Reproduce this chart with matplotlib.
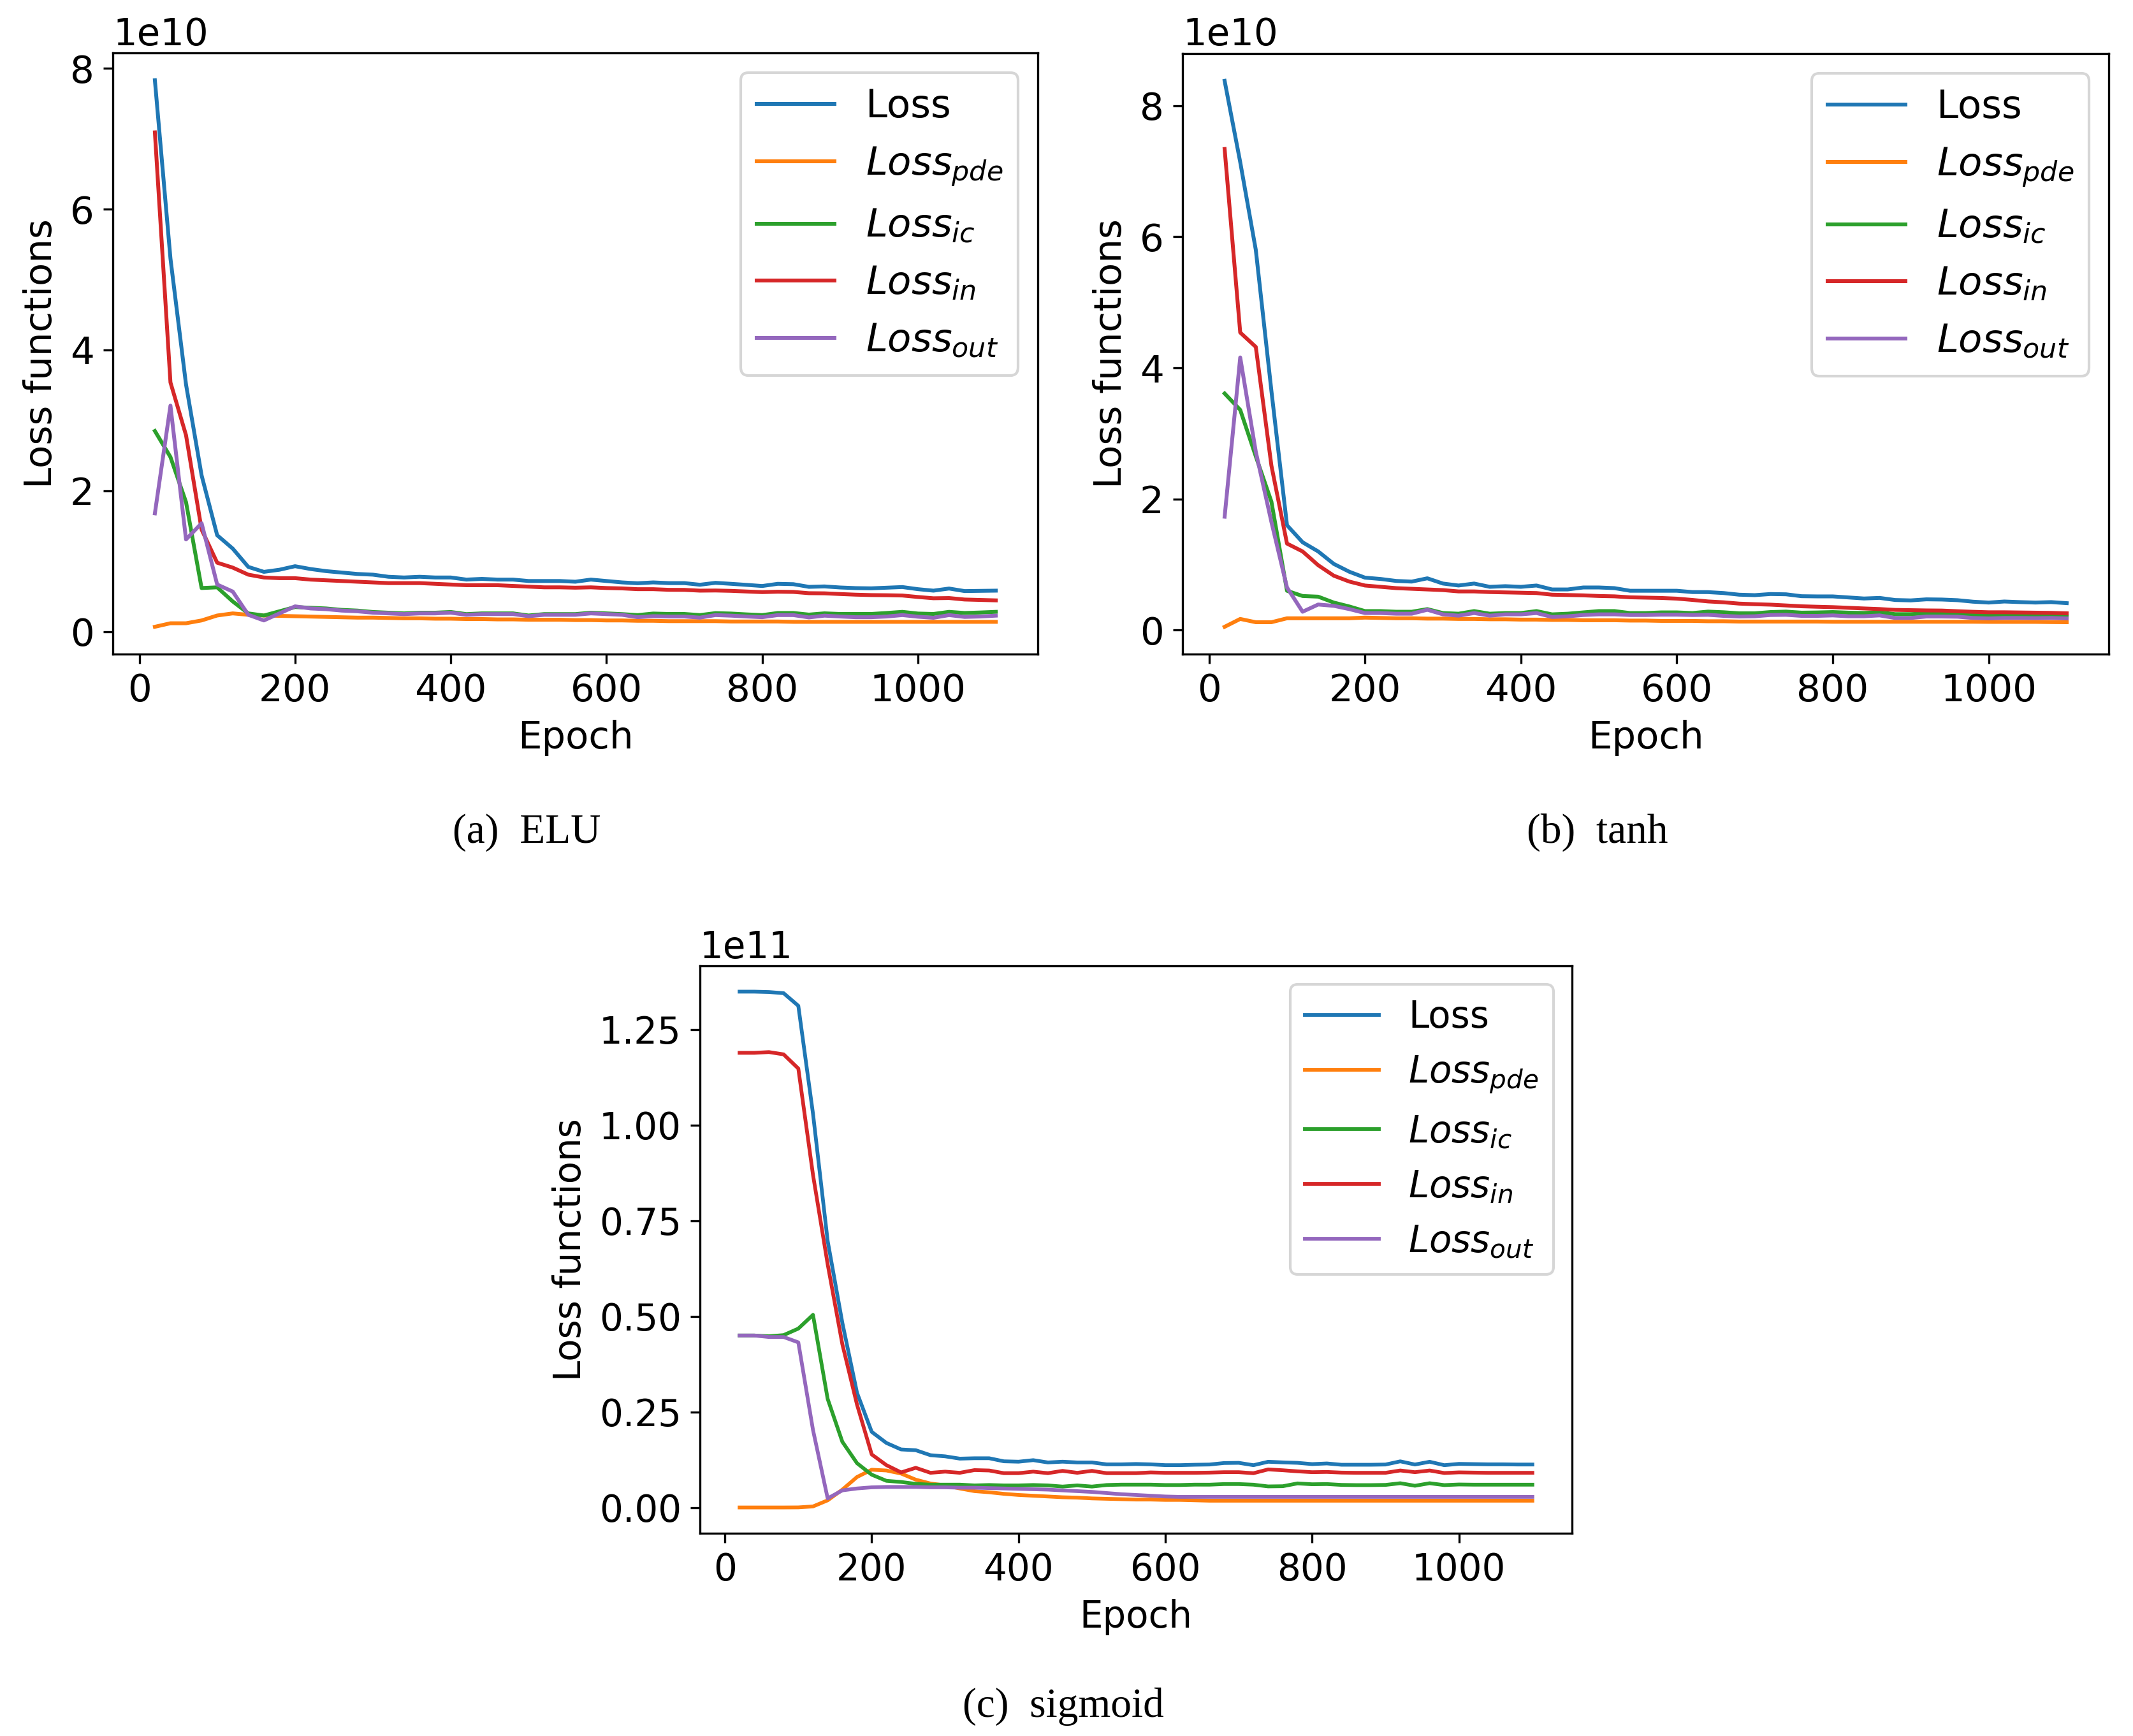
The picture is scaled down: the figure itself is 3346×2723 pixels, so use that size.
import matplotlib
matplotlib.use("Agg")
import matplotlib.pyplot as plt

# ---------------- data ----------------
epochs = [20, 40, 60, 80, 100, 120, 140, 160, 180, 200, 220, 240, 260, 280, 300,
          320, 340, 360, 380, 400, 420, 440, 460, 480, 500, 520, 540, 560, 580, 600,
          620, 640, 660, 680, 700, 720, 740, 760, 780, 800, 820, 840, 860, 880, 900,
          920, 940, 960, 980, 1000, 1020, 1040, 1060, 1080, 1100]

labels = ["Loss", r"$Loss_{pde}$", r"$Loss_{ic}$", r"$Loss_{in}$", r"$Loss_{out}$"]
captions = ["(a)  ELU", "(b)  tanh", "(c)  sigmoid"]

# ELU (x 1e10)
elu_loss = [7.83, 5.30, 3.51, 2.22, 1.37, 1.18, 0.92, 0.85, 0.88, 0.93, 0.89, 0.86, 0.84, 0.82, 0.81,
            0.78, 0.77, 0.78, 0.77, 0.77, 0.74, 0.75, 0.74, 0.74, 0.72, 0.72, 0.72, 0.71, 0.74, 0.72,
            0.70, 0.688, 0.70, 0.69, 0.69, 0.667, 0.694, 0.68, 0.665, 0.649, 0.68, 0.675, 0.637, 0.643, 0.628,
            0.619, 0.616, 0.625, 0.634, 0.604, 0.583, 0.613, 0.577, 0.58, 0.583]
elu_pde = [0.07, 0.12, 0.12, 0.16, 0.23, 0.26, 0.24, 0.23, 0.225, 0.22, 0.215, 0.21, 0.205, 0.20, 0.20,
           0.195, 0.19, 0.19, 0.185, 0.185, 0.18, 0.18, 0.175, 0.175, 0.17, 0.17, 0.17, 0.165, 0.165, 0.16,
           0.16, 0.155, 0.155, 0.15, 0.15, 0.15, 0.15, 0.145, 0.145, 0.145, 0.145, 0.14, 0.14, 0.14, 0.14,
           0.14, 0.14, 0.14, 0.14, 0.14, 0.14, 0.14, 0.14, 0.14, 0.14]
elu_ic = [2.85, 2.48, 1.84, 0.62, 0.63, 0.43, 0.26, 0.23, 0.29, 0.35, 0.34, 0.33, 0.31, 0.30, 0.28,
          0.27, 0.26, 0.27, 0.27, 0.28, 0.25, 0.26, 0.26, 0.26, 0.23, 0.25, 0.25, 0.25, 0.27, 0.26,
          0.25, 0.236, 0.258, 0.252, 0.252, 0.236, 0.264, 0.258, 0.246, 0.236, 0.266, 0.266, 0.243, 0.261, 0.252,
          0.252, 0.252, 0.266, 0.282, 0.258, 0.252, 0.282, 0.266, 0.273, 0.282]
elu_in = [7.09, 3.54, 2.79, 1.45, 0.98, 0.91, 0.81, 0.77, 0.76, 0.76, 0.74, 0.73, 0.72, 0.71, 0.70,
          0.69, 0.69, 0.69, 0.68, 0.67, 0.66, 0.66, 0.66, 0.65, 0.64, 0.63, 0.63, 0.625, 0.63, 0.62,
          0.615, 0.604, 0.604, 0.595, 0.594, 0.583, 0.585, 0.580, 0.571, 0.562, 0.568, 0.565, 0.547, 0.545, 0.535,
          0.526, 0.52, 0.518, 0.514, 0.493, 0.475, 0.478, 0.457, 0.451, 0.445]
elu_out = [1.68, 3.21, 1.31, 1.54, 0.67, 0.57, 0.24, 0.16, 0.26, 0.36, 0.33, 0.32, 0.30, 0.29, 0.27,
           0.26, 0.25, 0.26, 0.26, 0.27, 0.24, 0.25, 0.25, 0.25, 0.22, 0.24, 0.24, 0.24, 0.26, 0.25,
           0.24, 0.206, 0.221, 0.216, 0.216, 0.200, 0.236, 0.228, 0.216, 0.206, 0.236, 0.236, 0.203, 0.228, 0.216,
           0.206, 0.206, 0.216, 0.236, 0.213, 0.198, 0.236, 0.210, 0.216, 0.228]

# tanh (x 1e10)
tanh_loss = [8.38, 7.14, 5.80, 3.65, 1.60, 1.34, 1.20, 1.01, 0.89, 0.80, 0.78, 0.75, 0.74, 0.79, 0.71,
             0.68, 0.71, 0.66, 0.67, 0.66, 0.68, 0.62, 0.62, 0.65, 0.65, 0.64, 0.60, 0.60, 0.60, 0.60,
             0.58, 0.579, 0.565, 0.540, 0.533, 0.55, 0.546, 0.517, 0.514, 0.514, 0.498, 0.482, 0.491, 0.459, 0.453,
             0.469, 0.466, 0.456, 0.433, 0.42, 0.436, 0.427, 0.42, 0.427, 0.411]
tanh_pde = [0.05, 0.17, 0.12, 0.12, 0.18, 0.18, 0.18, 0.18, 0.18, 0.19, 0.185, 0.18, 0.18, 0.175, 0.175,
            0.17, 0.17, 0.165, 0.165, 0.16, 0.16, 0.155, 0.155, 0.15, 0.15, 0.15, 0.145, 0.145, 0.14, 0.14,
            0.14, 0.135, 0.135, 0.13, 0.13, 0.13, 0.13, 0.13, 0.13, 0.127, 0.127, 0.127, 0.127, 0.127, 0.127,
            0.127, 0.127, 0.127, 0.127, 0.125, 0.125, 0.125, 0.125, 0.122, 0.12]
tanh_ic = [3.61, 3.36, 2.65, 1.96, 0.60, 0.52, 0.51, 0.42, 0.36, 0.29, 0.29, 0.28, 0.28, 0.32, 0.26,
           0.25, 0.29, 0.25, 0.26, 0.26, 0.29, 0.24, 0.25, 0.27, 0.29, 0.29, 0.26, 0.26, 0.27, 0.27,
           0.26, 0.282, 0.272, 0.256, 0.256, 0.275, 0.282, 0.266, 0.269, 0.275, 0.266, 0.262, 0.272, 0.243, 0.243,
           0.256, 0.256, 0.249, 0.233, 0.227, 0.233, 0.227, 0.224, 0.224, 0.217]
tanh_in = [7.34, 4.54, 4.32, 2.51, 1.32, 1.20, 0.99, 0.83, 0.74, 0.68, 0.66, 0.64, 0.63, 0.62, 0.61,
           0.59, 0.59, 0.58, 0.575, 0.57, 0.565, 0.54, 0.535, 0.53, 0.52, 0.515, 0.50, 0.495, 0.49, 0.48,
           0.46, 0.437, 0.424, 0.404, 0.395, 0.388, 0.376, 0.363, 0.356, 0.35, 0.34, 0.33, 0.321, 0.308, 0.304,
           0.30, 0.298, 0.288, 0.279, 0.272, 0.272, 0.269, 0.266, 0.263, 0.256]
tanh_out = [1.73, 4.16, 2.72, 1.65, 0.65, 0.28, 0.39, 0.37, 0.32, 0.26, 0.26, 0.25, 0.25, 0.31, 0.24,
            0.22, 0.26, 0.22, 0.24, 0.24, 0.26, 0.20, 0.21, 0.23, 0.24, 0.24, 0.23, 0.23, 0.235, 0.235,
            0.23, 0.233, 0.217, 0.207, 0.211, 0.230, 0.233, 0.217, 0.217, 0.224, 0.211, 0.211, 0.224, 0.185, 0.185,
            0.207, 0.207, 0.204, 0.185, 0.178, 0.185, 0.185, 0.182, 0.185, 0.178]

# sigmoid (x 1e11)
sig_loss = [1.349, 1.349, 1.348, 1.345, 1.312, 1.03, 0.697, 0.483, 0.30, 0.198, 0.169, 0.152, 0.150, 0.137, 0.134,
            0.128, 0.129, 0.129, 0.121, 0.120, 0.124, 0.118, 0.120, 0.118, 0.118, 0.113, 0.113, 0.114, 0.113, 0.111,
            0.111, 0.112, 0.1126, 0.1165, 0.117, 0.1109, 0.1198, 0.1182, 0.117, 0.1137, 0.1154, 0.112, 0.112, 0.112, 0.1126,
            0.1209, 0.1126, 0.1198, 0.1109, 0.1143, 0.1137, 0.1131, 0.1131, 0.1126, 0.1126]
sig_pde = [0.0003, 0.0003, 0.0003, 0.0003, 0.0005, 0.003, 0.019, 0.047, 0.080, 0.099, 0.097, 0.089, 0.073, 0.063, 0.058,
           0.050, 0.043, 0.040, 0.036, 0.033, 0.031, 0.029, 0.027, 0.026, 0.024, 0.023, 0.022, 0.021, 0.021, 0.020,
           0.020, 0.019, 0.018, 0.018, 0.018, 0.018, 0.018, 0.018, 0.018, 0.018, 0.018, 0.018, 0.018, 0.018, 0.018,
           0.018, 0.018, 0.018, 0.018, 0.018, 0.018, 0.018, 0.018, 0.018, 0.018]
sig_ic = [0.450, 0.450, 0.448, 0.451, 0.468, 0.504, 0.284, 0.172, 0.116, 0.086, 0.070, 0.067, 0.062, 0.060, 0.060,
          0.060, 0.058, 0.059, 0.058, 0.058, 0.059, 0.058, 0.055, 0.058, 0.055, 0.059, 0.060, 0.060, 0.060, 0.059,
          0.059, 0.060, 0.0599, 0.0615, 0.0615, 0.0599, 0.0554, 0.0559, 0.0632, 0.0610, 0.0615, 0.0593, 0.0588, 0.0588, 0.0593,
          0.0637, 0.0571, 0.0637, 0.0588, 0.0604, 0.0599, 0.0599, 0.0599, 0.0599, 0.0599]
sig_in = [1.189, 1.189, 1.191, 1.185, 1.148, 0.87, 0.636, 0.427, 0.269, 0.139, 0.111, 0.092, 0.104, 0.091, 0.094,
          0.091, 0.098, 0.097, 0.090, 0.090, 0.094, 0.090, 0.096, 0.091, 0.096, 0.090, 0.090, 0.090, 0.092, 0.091,
          0.091, 0.091, 0.0915, 0.0926, 0.0926, 0.0899, 0.0998, 0.0976, 0.0948, 0.0926, 0.0932, 0.0915, 0.0910, 0.0910, 0.0910,
          0.0970, 0.0926, 0.0970, 0.0904, 0.0921, 0.0915, 0.0910, 0.0910, 0.0910, 0.0910]
sig_out = [0.450, 0.450, 0.446, 0.446, 0.432, 0.203, 0.024, 0.045, 0.050, 0.053, 0.054, 0.054, 0.054, 0.053, 0.053,
           0.052, 0.052, 0.051, 0.050, 0.049, 0.048, 0.047, 0.045, 0.043, 0.041, 0.038, 0.035, 0.033, 0.031, 0.029,
           0.028, 0.028, 0.028, 0.028, 0.028, 0.028, 0.028, 0.028, 0.028, 0.028, 0.028, 0.028, 0.028, 0.028, 0.028,
           0.028, 0.028, 0.028, 0.028, 0.028, 0.028, 0.028, 0.028, 0.028, 0.028]

scales = [1e10, 1e10, 1e11]
panels = [
    [elu_loss, elu_pde, elu_ic, elu_in, elu_out],
    [tanh_loss, tanh_pde, tanh_ic, tanh_in, tanh_out],
    [sig_loss, sig_pde, sig_ic, sig_in, sig_out],
]

# ---------------- layout ----------------
W, H = 3346, 2723
DPI = 300
fig = plt.figure(figsize=(W / DPI, H / DPI), dpi=DPI)

def rect(l, t, r, b):
    return [l / W, 1 - b / H, (r - l) / W, (b - t) / H]

axes_rects = [rect(177, 83, 1628, 1026), rect(1855, 84, 3308, 1026), rect(1098, 1515, 2466, 2405)]
font_sizes = [14.25, 14.25, 13.9]
legend_sizes = [14.65, 14.65, 13.9]
line_widths = [1.45, 1.45, 1.4]
colors = ["#1f77b4", "#ff7f0e", "#2ca02c", "#d62728", "#9467bd"]

for i in range(3):
    fs = font_sizes[i]
    ax = fig.add_axes(axes_rects[i])
    for series, lab, col in zip(panels[i], labels, colors):
        ax.plot(epochs, [v * scales[i] for v in series], color=col, lw=line_widths[i], label=lab)
    ax.set_xlabel("Epoch", fontsize=fs)
    ax.set_ylabel("Loss functions", fontsize=fs)
    ax.tick_params(labelsize=fs)
    ax.yaxis.get_offset_text().set_fontsize(fs)
    ax.set_xticks([0, 200, 400, 600, 800, 1000])
    ax.legend(loc="upper right", fontsize=legend_sizes[i])

caption_pos = [(826, 1322), (2506, 1322), (1668, 2693)]
for cap, (cx, cy) in zip(captions, caption_pos):
    fig.text(cx / W, 1 - cy / H, cap, ha="center", va="baseline",
             fontsize=15.7, family="Liberation Serif")

fig.savefig("out.png", dpi=DPI)
